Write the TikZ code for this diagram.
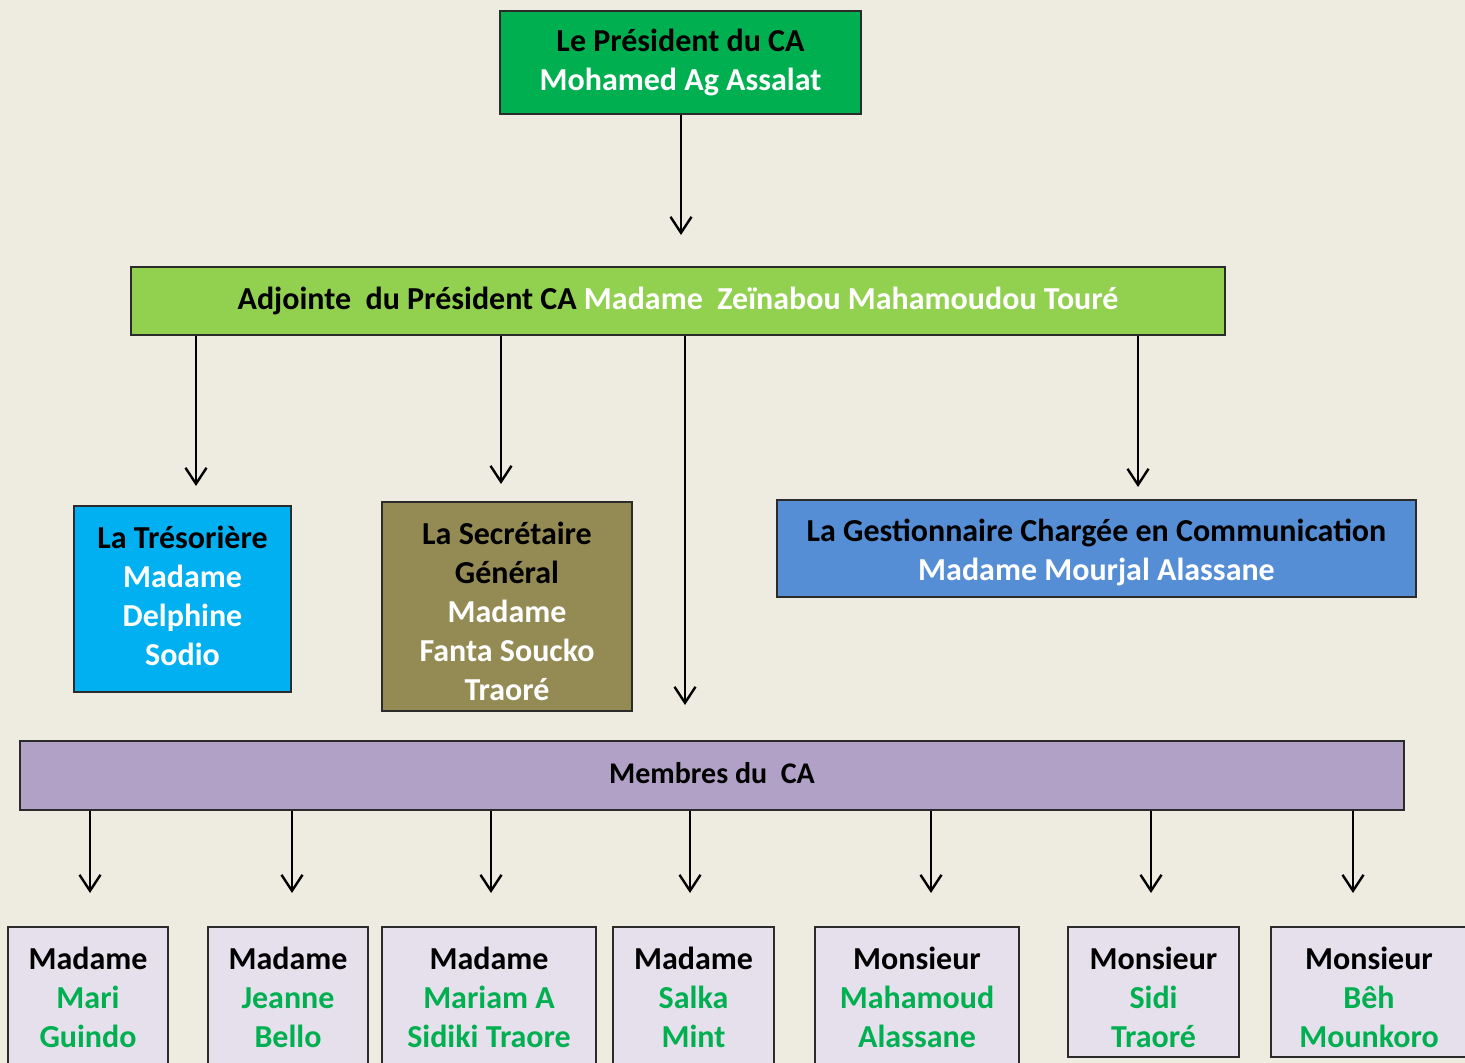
\documentclass[tikz,border=0pt]{standalone}
\usepackage{fontspec}
\setmainfont{Carlito}
\usetikzlibrary{arrows.meta}
\definecolor{bg}{HTML}{EEECE1}
\definecolor{cgreen}{HTML}{00B050}
\definecolor{clime}{HTML}{92D050}
\definecolor{ccyan}{HTML}{00B0F0}
\definecolor{colive}{HTML}{948A54}
\definecolor{cblue}{HTML}{558ED5}
\definecolor{cpurple}{HTML}{B2A1C7}
\definecolor{clav}{HTML}{E5E0EC}
\definecolor{cborder}{HTML}{2B2B2B}
\tikzset{
  box/.style={draw=cborder, line width=1.5pt, inner sep=0pt, align=center,
    font=\bfseries\fontsize{32}{39}\selectfont},
  txt/.style={inner sep=0pt, align=center, font=\bfseries\fontsize{32}{39}\selectfont},
  member/.style={box, fill=clav, minimum width=#1},
  arr/.style={line width=2.4pt, -{Straight Barb[length=16pt,width=21pt]}},
}
\begin{document}
\begin{tikzpicture}[x=1pt,y=-1pt]
\fill[bg] (0,0) rectangle (1465,1063);
\useasboundingbox (0,0) rectangle (1465,1063);
\clip (0,0) rectangle (1465,1063);

% top
\node[box, fill=cgreen, minimum width=361, minimum height=103] (pres) at (680.5,62.5)
  {Le Président du CA\\\textcolor{white}{Mohamed Ag Assalat}};
% adjoint
\node[box, fill=clime, minimum width=1094, minimum height=68] (adj) at (678,301)
  {Adjointe\ \ du Président CA \textcolor{white}{Madame\ \ Zeïnabou Mahamoudou Touré}};
% second level
\node[box, fill=ccyan, minimum width=217, minimum height=186] (tres) at (182.5,599) {};
\node[txt, yshift=3pt] (tresT) at (tres.center)
  {La Trésorière\\\textcolor{white}{Madame}\\\textcolor{white}{Delphine}\\\textcolor{white}{Sodio}};
\node[box, fill=colive, minimum width=250, minimum height=209] (sec) at (507,606.5) {};
\node[txt, yshift=-5pt] (secT) at (sec.center)
  {La Secrétaire\\Général\\\textcolor{white}{Madame}\\\textcolor{white}{Fanta Soucko}\\\textcolor{white}{Traoré}};
\node[box, fill=cblue, minimum width=639, minimum height=97] (gest) at (1096.5,548.5) {};
\node[txt, yshift=-3.5pt] (gestT) at (gest.center)
  {La Gestionnaire Chargée en Communication\\\textcolor{white}{Madame Mourjal Alassane}};
% members
\node[box, fill=cpurple, minimum width=1384, minimum height=69,
  font=\bfseries\fontsize{30}{36}\selectfont] (mem) at (712,775.5) {};
\node[txt, yshift=2pt, font=\bfseries\fontsize{30}{36}\selectfont] (memT) at (mem.center)
  {Membres du\ \ CA};

\node[member=160, minimum height=140] (m1) at (88,997)
  {Madame\\\textcolor{cgreen}{Mari}\\\textcolor{cgreen}{Guindo}};
\node[member=160, minimum height=140] (m2) at (288,997)
  {Madame\\\textcolor{cgreen}{Jeanne}\\\textcolor{cgreen}{Bello}};
\node[member=214, minimum height=140] (m3) at (489,997)
  {Madame\\\textcolor{cgreen}{Mariam A}\\\textcolor{cgreen}{Sidiki Traore}};
\node[member=161, minimum height=140] (m4) at (693.5,997)
  {Madame\\\textcolor{cgreen}{Salka}\\\textcolor{cgreen}{Mint}};
\node[member=204, minimum height=140] (m5) at (917,997)
  {Monsieur\\\textcolor{cgreen}{Mahamoud}\\\textcolor{cgreen}{Alassane}};
\node[member=171, minimum height=130] (m6) at (1153.5,992) {};
\node[txt, yshift=-5pt] (m6T) at (m6.center)
  {Monsieur\\\textcolor{cgreen}{Sidi}\\\textcolor{cgreen}{Traoré}};
\node[member=196, minimum height=130] (m7) at (1369,992) {};
\node[txt, yshift=-5pt] (m7T) at (m7.center)
  {Monsieur\\\textcolor{cgreen}{Bêh}\\\textcolor{cgreen}{Mounkoro}};

% arrow tips
\coordinate (t0) at (681,235);
\coordinate (t1) at (196,486);
\coordinate (t2) at (501,484);
\coordinate (t3) at (685,705);
\coordinate (t4) at (1138,487);
\coordinate (b1) at (90,893);
\coordinate (b2) at (292,893);
\coordinate (b3) at (491,893);
\coordinate (b4) at (690,893);
\coordinate (b5) at (931,893);
\coordinate (b6) at (1151,893);
\coordinate (b7) at (1353,893);

\draw[arr] (pres.south -| t0) -- (t0);
\foreach \t in {t1,t2,t3,t4} \draw[arr] (adj.south -| \t) -- (\t);
\foreach \t in {b1,b2,b3,b4,b5,b6,b7} \draw[arr] (mem.south -| \t) -- (\t);
\end{tikzpicture}
\end{document}
